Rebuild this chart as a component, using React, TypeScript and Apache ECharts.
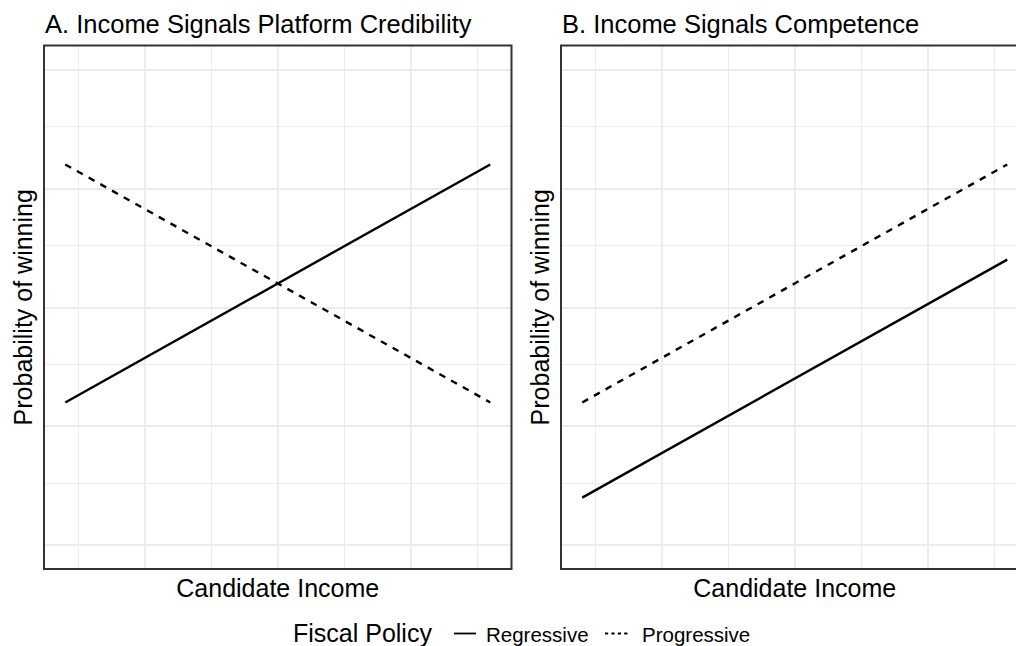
import React, { useEffect, useRef } from "react";
import * as echarts from "echarts";

// Candidate income (standardised) at the two ends of each fitted line
const incomeEnds = [-1.6, 1.6];

// Panel A: income signals platform credibility
const creditRegressive = [0.3, 0.8];
const creditProgressive = [0.8, 0.3];

// Panel B: income signals competence
const competRegressive = [0.1, 0.6];
const competProgressive = [0.3, 0.8];

// Grid breaks
const xMajorBreaks = [-1, 0, 1];
const xMinorBreaks = [-1.5, -0.5, 0.5, 1.5];
const yMajorBreaks = [0, 0.25, 0.5, 0.75, 1];
const yMinorBreaks = [0.125, 0.375, 0.625, 0.875];

const panelTitles = [
  "A. Income Signals Platform Credibility",
  "B. Income Signals Competence",
];
const legendTitle = "Fiscal Policy";
const legendLabels = ["Regressive", "Progressive"];

const FONT = '"Liberation Sans", Arial, Helvetica, sans-serif';
const GRID_COLOR = "#EBEBEB";

const pairs = (ys: number[]) => incomeEnds.map((x, i) => [x, ys[i]]);

// x domain padded by 5% on each side, y domain 0..1 padded the same way
const xPad = (incomeEnds[1] - incomeEnds[0]) * 0.05;
const X_MIN = incomeEnds[0] - xPad;
const X_MAX = incomeEnds[1] + xPad;
const Y_MIN = -0.05;
const Y_MAX = 1.05;

const panels = [
  { left: 44, reg: creditRegressive, prog: creditProgressive },
  { left: 561, reg: competRegressive, prog: competProgressive },
];
const PANEL_TOP = 45.5;
const PANEL_W = 467.5;
const PANEL_H = 523.5;
const LINE_W = 2.4;

function gridLineSeries(idx: number) {
  const major = { width: 1.8, color: GRID_COLOR, type: "solid" };
  const minor = { width: 1.0, color: GRID_COLOR, type: "solid" };
  return {
    type: "line",
    xAxisIndex: idx,
    yAxisIndex: idx,
    data: [],
    silent: true,
    z: 1,
    markLine: {
      silent: true,
      z: 1,
      symbol: ["none", "none"],
      label: { show: false },
      emphasis: { disabled: true },
      animation: false,
      data: [
        ...xMinorBreaks.map((v) => ({ xAxis: v, lineStyle: minor })),
        ...yMinorBreaks.map((v) => ({ yAxis: v, lineStyle: minor })),
        ...xMajorBreaks.map((v) => ({ xAxis: v, lineStyle: major })),
        ...yMajorBreaks.map((v) => ({ yAxis: v, lineStyle: major })),
      ],
    },
  };
}

export default function App() {
  const ref = useRef<HTMLDivElement>(null);

  useEffect(() => {
    if (!ref.current) return;
    const chart = echarts.init(ref.current, null, { renderer: "svg" });

    const option: any = {
      animation: false,
      backgroundColor: "#FFFFFF",
      title: panels.map((p, i) => ({
        text: panelTitles[i],
        left: p.left + 1,
        top: 11,
        padding: 0,
        textStyle: {
          fontFamily: FONT,
          fontSize: 25.5,
          fontWeight: "normal",
          color: "#000000",
        },
      })),
      grid: panels.map((p) => ({
        left: p.left,
        top: PANEL_TOP,
        width: PANEL_W,
        height: PANEL_H,
        show: true,
        z: 10,
        backgroundColor: "transparent",
        borderColor: "#333333",
        borderWidth: 2,
        containLabel: false,
        outerBoundsMode: "none",
      })),
      xAxis: panels.map((_, i) => ({
        type: "value",
        gridIndex: i,
        min: X_MIN,
        max: X_MAX,
        name: "Candidate Income",
        nameLocation: "middle",
        nameGap: 6,
        nameTextStyle: {
          fontFamily: FONT,
          fontSize: 25,
          color: "#000000",
          verticalAlign: "top",
          lineHeight: 25,
        },
        axisLine: { show: false },
        axisTick: { show: false },
        axisLabel: { show: false },
        splitLine: { show: false },
      })),
      yAxis: panels.map((_, i) => ({
        type: "value",
        gridIndex: i,
        min: Y_MIN,
        max: Y_MAX,
        name: "Probability of winning",
        nameLocation: "middle",
        nameRotate: 90,
        nameGap: 9,
        nameTextStyle: {
          fontFamily: FONT,
          fontSize: 25,
          color: "#000000",
          lineHeight: 25,
        },
        axisLine: { show: false },
        axisTick: { show: false },
        axisLabel: { show: false },
        splitLine: { show: false },
      })),
      series: panels.flatMap((p, i) => [
        gridLineSeries(i),
        {
          name: legendLabels[0],
          type: "line",
          xAxisIndex: i,
          yAxisIndex: i,
          data: pairs(p.reg),
          showSymbol: false,
          silent: true,
          z: 3,
          lineStyle: { color: "#000000", width: LINE_W, type: "solid", cap: "butt" },
        },
        {
          name: legendLabels[1],
          type: "line",
          xAxisIndex: i,
          yAxisIndex: i,
          data: pairs(p.prog),
          showSymbol: false,
          silent: true,
          z: 3,
          lineStyle: {
            color: "#000000",
            width: LINE_W,
            type: [6.7, 6.7],
            cap: "butt",
          },
        },
      ]),
      graphic: [
        {
          type: "text",
          x: 293,
          y: 633,
          style: {
            text: legendTitle,
            fontFamily: FONT,
            fontSize: 25,
            lineHeight: 24,
            fill: "#000000",
            verticalAlign: "middle",
          },
        },
        {
          type: "line",
          shape: { x1: 454, y1: 633.5, x2: 476, y2: 633.5 },
          style: { stroke: "#000000", lineWidth: 1.8 },
        },
        {
          type: "text",
          x: 486,
          y: 634,
          style: {
            text: legendLabels[0],
            fontFamily: FONT,
            fontSize: 20.5,
            fill: "#000000",
            verticalAlign: "middle",
          },
        },
        {
          type: "line",
          shape: { x1: 605, y1: 633.5, x2: 630, y2: 633.5 },
          style: { stroke: "#000000", lineWidth: 1.8, lineDash: [3.2, 3.2] },
        },
        {
          type: "text",
          x: 642,
          y: 634,
          style: {
            text: legendLabels[1],
            fontFamily: FONT,
            fontSize: 20.5,
            fill: "#000000",
            verticalAlign: "middle",
          },
        },
      ],
    };

    chart.setOption(option);
    return () => chart.dispose();
  }, []);

  return (
    <div
      ref={ref}
      style={{ position: "absolute", left: 0, top: 0, width: 1016, height: 646 }}
    />
  );
}
